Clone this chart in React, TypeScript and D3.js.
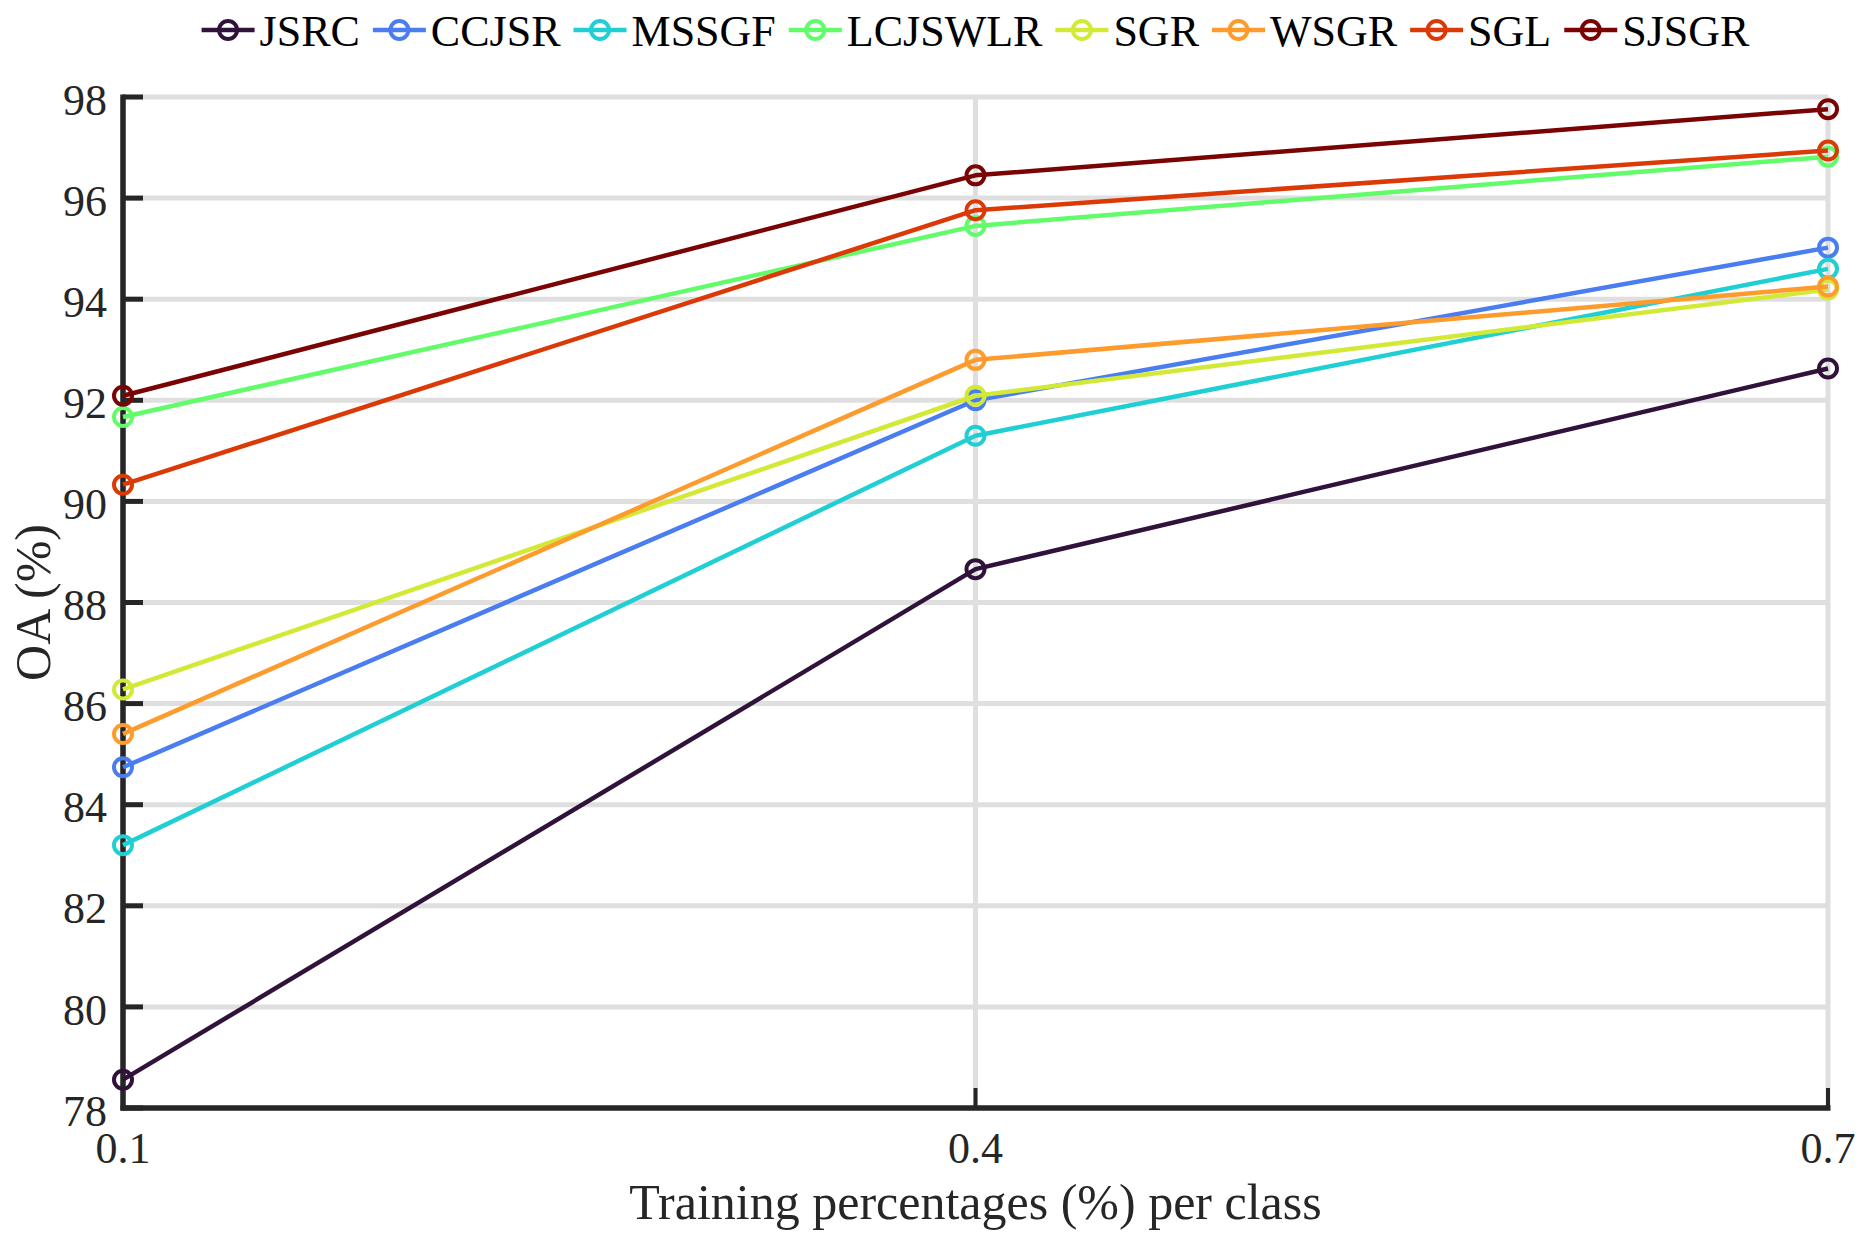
import React, { useRef, useEffect } from 'react';
import * as d3 from 'd3';

const xValues = [0.1, 0.4, 0.7];
const seriesNames = ['JSRC', 'CCJSR', 'MSSGF', 'LCJSWLR', 'SGR', 'WSGR', 'SGL', 'SJSGR'];
const seriesColors = ['#30123b', '#4a7df0', '#1fcfd4', '#62fc6b', '#d2e935', '#fe9b2d', '#db3a07', '#7a0403'];

const JSRC = [78.56, 88.66, 92.63];
const CCJSR = [84.74, 92.0, 95.02];
const MSSGF = [83.2, 91.3, 94.6];
const LCJSWLR = [91.67, 95.45, 96.82];
const SGR = [86.28, 92.09, 94.19];
const WSGR = [85.4, 92.8, 94.25];
const SGL = [90.33, 95.76, 96.94];
const SJSGR = [92.09, 96.45, 97.76];

const seriesValues = [JSRC, CCJSR, MSSGF, LCJSWLR, SGR, WSGR, SGL, SJSGR];
const yTicks = [78, 80, 82, 84, 86, 88, 90, 92, 94, 96, 98];

const W = 1867;
const H = 1242;

const App: React.FC = () => {
  const svgRef = useRef<SVGSVGElement | null>(null);

  useEffect(() => {
    document.body.style.margin = '0';
    if (!svgRef.current) return;
    const svg = d3.select(svgRef.current);
    svg.selectAll('*').remove();

    const margin = { top: 97, right: 39, bottom: 134, left: 123 };
    const innerW = W - margin.left - margin.right;
    const innerH = H - margin.top - margin.bottom;
    const font = '"Liberation Serif", "Times New Roman", serif';
    const axisColor = '#262626';
    const gridColor = '#dfdfdf';

    const x = d3.scaleLinear().domain([0.1, 0.7]).range([0, innerW]);
    const y = d3.scaleLinear().domain([78, 98]).range([innerH, 0]);

    const g = svg.append('g').attr('transform', `translate(${margin.left},${margin.top})`);

    // grid
    g.append('g')
      .selectAll('line')
      .data(yTicks)
      .join('line')
      .attr('x1', 0)
      .attr('x2', innerW)
      .attr('y1', d => y(d))
      .attr('y2', d => y(d))
      .attr('stroke', gridColor)
      .attr('stroke-width', 5);
    g.append('g')
      .selectAll('line')
      .data(xValues)
      .join('line')
      .attr('x1', d => x(d))
      .attr('x2', d => x(d))
      .attr('y1', 0)
      .attr('y2', innerH)
      .attr('stroke', gridColor)
      .attr('stroke-width', 5);

    // axes lines
    g.append('line')
      .attr('x1', 0).attr('x2', 0)
      .attr('y1', -2.5).attr('y2', innerH + 2.5)
      .attr('stroke', axisColor).attr('stroke-width', 5.5);
    g.append('line')
      .attr('x1', -2.5).attr('x2', innerW + 2.5)
      .attr('y1', innerH).attr('y2', innerH)
      .attr('stroke', axisColor).attr('stroke-width', 5.5);

    // ticks
    g.append('g')
      .selectAll('line')
      .data(yTicks)
      .join('line')
      .attr('x1', 0)
      .attr('x2', 20)
      .attr('y1', d => y(d))
      .attr('y2', d => y(d))
      .attr('stroke', axisColor)
      .attr('stroke-width', 5);
    g.append('g')
      .selectAll('line')
      .data(xValues)
      .join('line')
      .attr('x1', d => x(d))
      .attr('x2', d => x(d))
      .attr('y1', innerH)
      .attr('y2', innerH - 20)
      .attr('stroke', axisColor)
      .attr('stroke-width', 4);

    // tick labels
    g.append('g')
      .selectAll('text')
      .data(yTicks)
      .join('text')
      .attr('x', -16)
      .attr('y', d => y(d))
      .attr('dy', '0.4em')
      .attr('text-anchor', 'end')
      .attr('font-family', font)
      .attr('font-size', 44)
      .attr('fill', axisColor)
      .text(d => d3.format('d')(d));
    g.append('g')
      .selectAll('text')
      .data(xValues)
      .join('text')
      .attr('x', d => x(d))
      .attr('y', innerH + 55)
      .attr('text-anchor', 'middle')
      .attr('font-family', font)
      .attr('font-size', 44)
      .attr('fill', axisColor)
      .text(d => d3.format('.1f')(d));

    // axis titles
    g.append('text')
      .attr('x', innerW / 2)
      .attr('y', innerH + 111)
      .attr('text-anchor', 'middle')
      .attr('font-family', font)
      .attr('font-size', 50)
      .attr('fill', axisColor)
      .text('Training percentages (%) per class');
    g.append('text')
      .attr('transform', `translate(${-73},${innerH / 2}) rotate(-90)`)
      .attr('text-anchor', 'middle')
      .attr('font-family', font)
      .attr('font-size', 50)
      .attr('fill', axisColor)
      .text('OA (%)');

    // series
    const line = d3.line<number>()
      .x((_, i) => x(xValues[i]))
      .y(d => y(d));

    seriesValues.forEach((vals, si) => {
      const sg = g.append('g');
      sg.append('path')
        .datum(vals)
        .attr('fill', 'none')
        .attr('stroke', seriesColors[si])
        .attr('stroke-width', 4.5)
        .attr('stroke-linejoin', 'round')
        .attr('d', line);
      sg.selectAll('circle')
        .data(vals)
        .join('circle')
        .attr('cx', (_, i) => x(xValues[i]))
        .attr('cy', d => y(d))
        .attr('r', 9)
        .attr('fill', 'none')
        .attr('stroke', seriesColors[si])
        .attr('stroke-width', 4);
    });

    // legend
    const legend = svg.append('g');
    const symW = 53;
    const gap = 5;
    const itemGap = 13;
    let cx = 0;
    const ly = 30;
    seriesNames.forEach((name, i) => {
      const item = legend.append('g').attr('transform', `translate(${cx},0)`);
      item.append('line')
        .attr('x1', 0).attr('x2', symW)
        .attr('y1', ly).attr('y2', ly)
        .attr('stroke', seriesColors[i]).attr('stroke-width', 4.5);
      item.append('circle')
        .attr('cx', symW / 2).attr('cy', ly).attr('r', 9)
        .attr('fill', 'none')
        .attr('stroke', seriesColors[i]).attr('stroke-width', 4);
      const t = item.append('text')
        .attr('x', symW + gap)
        .attr('y', 46)
        .attr('font-family', font)
        .attr('font-size', 44)
        .attr('fill', '#000')
        .text(name);
      const tw = (t.node() as SVGTextElement).getComputedTextLength();
      cx += symW + gap + tw + itemGap;
    });
    const total = cx - itemGap;
    legend.attr('transform', `translate(${margin.left + innerW / 2 - total / 2},0)`);
  }, []);

  return <svg ref={svgRef} width={W} height={H} style={{ display: 'block', background: '#fff' }} />;
};

export default App;
